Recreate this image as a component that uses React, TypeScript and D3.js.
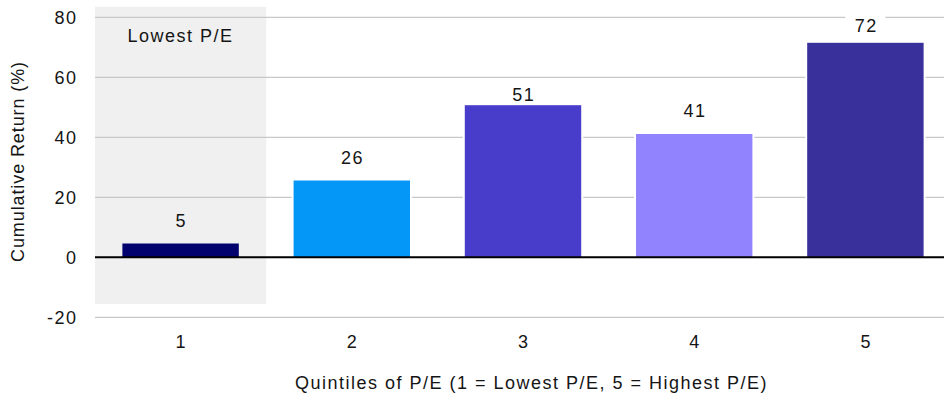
import React, { useMemo } from "react";
import * as d3 from "d3";

// Quintile portfolios sorted by P/E and their cumulative returns (%)
const quintiles = ["1", "2", "3", "4", "5"];
const cumulativeReturn = [4.6, 25.6, 50.7, 41.1, 71.5];
const barColors = ["#02026f", "#0497f8", "#473dca", "#9182fe", "#3a309c"];
const yTicks = [-20, 0, 20, 40, 60, 80];
// Value range covered by the "Lowest P/E" highlight band
const highlightRange = [-15.6, 83.5];
const highlightLabel = "Lowest P/E";

// Extra lift of a value label above its bar, in px
const labelLift = [17, 17, 4, 17, 11];

const W = 944;
const H = 394;
const FONT = "'Liberation Sans', Arial, Helvetica, sans-serif";
const FS = 18;
const LS = 1.5;

export default function App() {
  const x = useMemo(
    () =>
      d3
        .scaleBand<string>()
        .domain(quintiles)
        .range([95, 951])
        .paddingInner(0.32)
        .paddingOuter(0.16),
    []
  );
  const y = useMemo(
    () => d3.scaleLinear().domain([-20, 80]).range([317.3, 17.3]),
    []
  );
  const fmt = d3.format(".0f");
  const bw = x.bandwidth();

  const labels = quintiles.map((q, i) => {
    const v = cumulativeReturn[i];
    const cx = (x(q) as number) + bw / 2;
    const base = y(v) - labelLift[i];
    return { q, v, cx, base, text: fmt(v) };
  });

  const textProps = {
    fontSize: FS,
    letterSpacing: LS,
    fill: "#151515",
  };

  return (
    <svg
      width={W}
      height={H}
      style={{ position: "absolute", left: 0, top: 0, background: "#fff" }}
      fontFamily={FONT}
    >
      <defs>
        <mask id="grid-gaps" maskUnits="userSpaceOnUse">
          <rect x={0} y={0} width={W} height={H} fill="#fff" />
          {quintiles.map((q, i) => {
            const v = cumulativeReturn[i];
            return (
              <rect
                key={q}
                x={(x(q) as number) - 2}
                y={Math.min(y(v), y(0)) - 2}
                width={bw + 4}
                height={Math.abs(y(v) - y(0)) + 4}
                fill="#000"
              />
            );
          })}
          {labels.map((l) => (
            <rect
              key={l.q}
              x={l.cx - 20}
              y={l.base - 18}
              width={40}
              height={22}
              fill="#000"
            />
          ))}
        </mask>
      </defs>

      {/* highlight band behind the lowest-P/E quintile */}
      <rect
        x={95}
        y={y(highlightRange[1])}
        width={x.step()}
        height={y(highlightRange[0]) - y(highlightRange[1])}
        fill="#f0f0f0"
      />

      {/* horizontal gridlines */}
      <g mask="url(#grid-gaps)">
        {yTicks
          .filter((t) => t !== 0)
          .map((t) => (
            <line
              key={t}
              x1={95}
              x2={W}
              y1={y(t)}
              y2={y(t)}
              stroke="#c8c8c8"
              strokeWidth={1.3}
            />
          ))}
      </g>

      {/* bars */}
      {quintiles.map((q, i) => {
        const v = cumulativeReturn[i];
        return (
          <rect
            key={q}
            x={x(q) as number}
            y={Math.min(y(v), y(0))}
            width={bw}
            height={Math.abs(y(v) - y(0))}
            fill={barColors[i]}
          />
        );
      })}

      {/* zero line */}
      <line x1={95} x2={W} y1={y(0)} y2={y(0)} stroke="#000" strokeWidth={2} />

      {/* value labels */}
      {labels.map((l) => (
        <text key={l.q} x={l.cx + LS / 2} y={l.base} textAnchor="middle" {...textProps}>
          {l.text}
        </text>
      ))}

      <text x={180.5} y={42} textAnchor="middle" {...textProps}>
        {highlightLabel}
      </text>

      {/* y axis tick labels */}
      {yTicks.map((t) => (
        <text key={t} x={77.5} y={y(t) + 6.5} textAnchor="end" {...textProps}>
          {t}
        </text>
      ))}

      {/* x axis tick labels */}
      {quintiles.map((q) => (
        <text
          key={q}
          x={(x(q) as number) + bw / 2 + LS / 2}
          y={348}
          textAnchor="middle"
          {...textProps}
        >
          {q}
        </text>
      ))}

      <text x={531.5} y={389} textAnchor="middle" {...textProps}>
        Quintiles of P/E (1 = Lowest P/E, 5 = Highest P/E)
      </text>

      <text
        transform="translate(24,161.5) rotate(-90)"
        textAnchor="middle"
        {...textProps}
        letterSpacing={0.9}
      >
        Cumulative Return (%)
      </text>
    </svg>
  );
}
